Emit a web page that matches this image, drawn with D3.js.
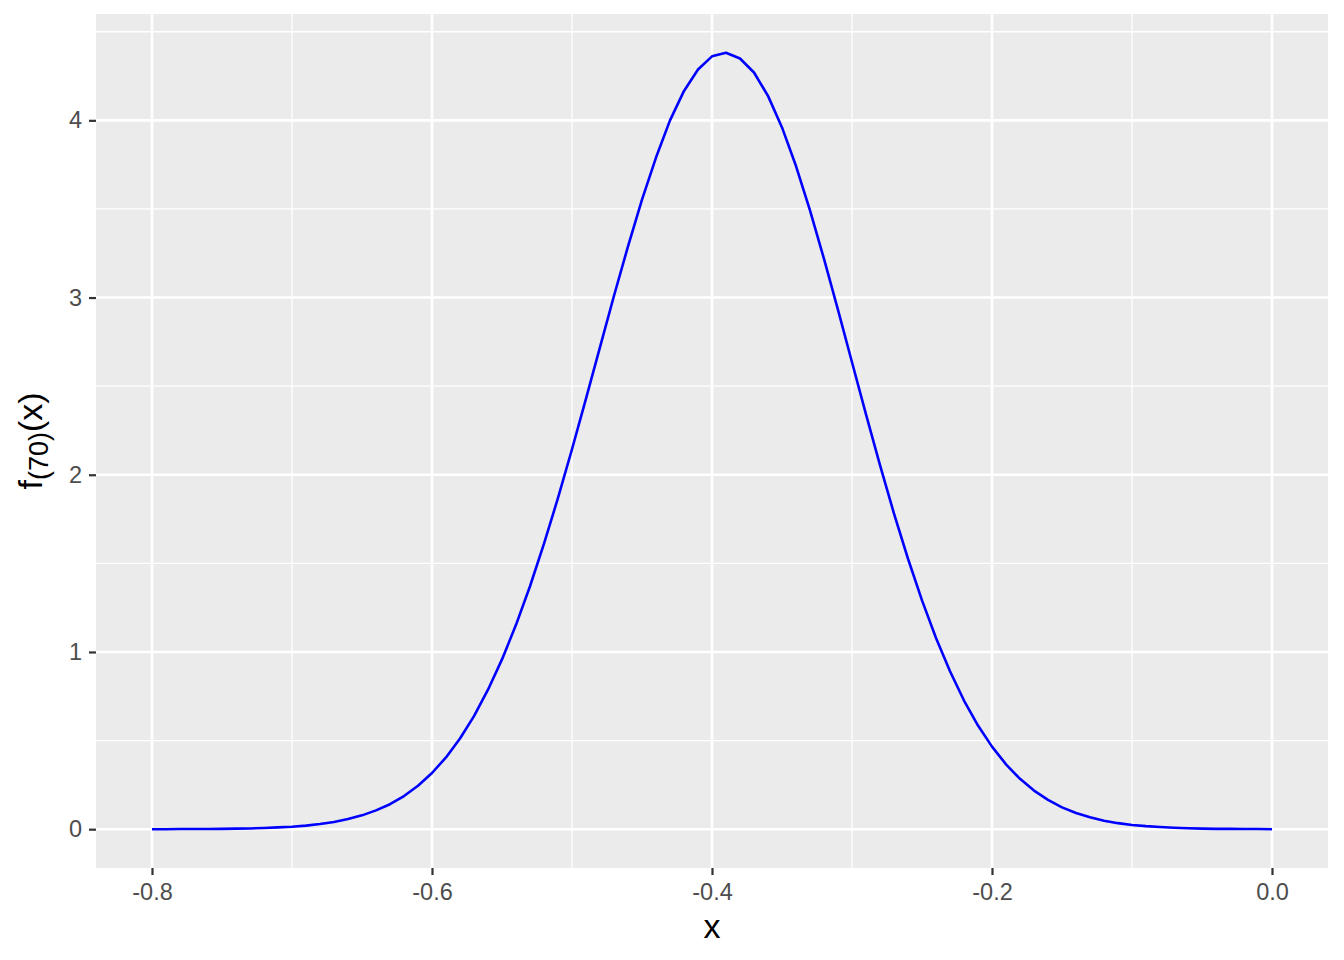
<!DOCTYPE html>
<html>
  <head>
    <meta charset="utf-8">
    <title></title>
  </head>
  <style>
    body {
      margin: 0;
      padding: 0;
      background-color: #fff;
      font-family: "Liberation Sans", Arial, Helvetica, sans-serif;
    }
    .axis path {
      display: none;
    }
    .axis .tick line {
      stroke: #333;
      stroke-width: 2.2;
    }
    .axis .tick text {
      fill: #4d4d4d;
      font-size: 23.5px;
      font-family: "Liberation Sans", Arial, Helvetica, sans-serif;
    }
    .grid-major line {
      stroke: #fff;
      stroke-width: 2.6;
    }
    .grid-minor line {
      stroke: #fff;
      stroke-width: 1.3;
    }
  </style>
  <script src="https://d3js.org/d3.v7.min.js"></script>
  <body>
    <script>
    // values, one point every 0.01
    var xs = [-0.80, -0.79, -0.78, -0.77, -0.76, -0.75, -0.74, -0.73, -0.72, -0.71,
              -0.70, -0.69, -0.68, -0.67, -0.66, -0.65, -0.64, -0.63, -0.62, -0.61,
              -0.60, -0.59, -0.58, -0.57, -0.56, -0.55, -0.54, -0.53, -0.52, -0.51,
              -0.50, -0.49, -0.48, -0.47, -0.46, -0.45, -0.44, -0.43, -0.42, -0.41,
              -0.40, -0.39, -0.38, -0.37, -0.36, -0.35, -0.34, -0.33, -0.32, -0.31,
              -0.30, -0.29, -0.28, -0.27, -0.26, -0.25, -0.24, -0.23, -0.22, -0.21,
              -0.20, -0.19, -0.18, -0.17, -0.16, -0.15, -0.14, -0.13, -0.12, -0.11,
              -0.10, -0.09, -0.08, -0.07, -0.06, -0.05, -0.04, -0.03, -0.02, -0.01,
               0.00]

    var density = [0.000, 0.000, 0.001, 0.001, 0.001, 0.002, 0.003, 0.004, 0.007, 0.010,
                   0.014, 0.020, 0.029, 0.041, 0.057, 0.078, 0.106, 0.141, 0.187, 0.245,
                   0.317, 0.405, 0.512, 0.638, 0.787, 0.958, 1.153, 1.371, 1.611, 1.869,
                   2.144, 2.430, 2.720, 3.010, 3.289, 3.553, 3.790, 4.000, 4.166, 4.287,
                   4.361, 4.381, 4.349, 4.270, 4.138, 3.960, 3.742, 3.492, 3.218, 2.930,
                   2.635, 2.341, 2.054, 1.781, 1.526, 1.291, 1.079, 0.891, 0.726, 0.585,
                   0.466, 0.366, 0.284, 0.218, 0.165, 0.123, 0.091, 0.067, 0.048, 0.034,
                   0.024, 0.017, 0.012, 0.008, 0.005, 0.003, 0.002, 0.002, 0.001, 0.001,
                   0.000]

    var xTicks = [-0.8, -0.6, -0.4, -0.2, 0.0]
    var xTickLabels = ["-0.8", "-0.6", "-0.4", "-0.2", "0.0"]
    var xMinor = [-0.7, -0.5, -0.3, -0.1]
    var yTicks = [0, 1, 2, 3, 4]
    var yTickLabels = ["0", "1", "2", "3", "4"]
    var yMinor = [0.5, 1.5, 2.5, 3.5, 4.5]

    var data = xs.map(function(x, i){ return [x, density[i]] })

    var totalW = 1344, totalH = 960
    var margin = { left: 96, top: 14, right: 16, bottom: 92 }
    var width  = totalW - margin.left - margin.right
    var height = totalH - margin.top - margin.bottom

    var svg = d3.select("body")
                .append("svg")
                .attr("width", totalW)
                .attr("height", totalH)

    var g = svg.append("g")
               .attr("transform", "translate(" + margin.left + "," + margin.top + ")")

    // ggplot style 5% expansion
    var xExt = d3.extent(xs)
    var yExt = d3.extent(density)
    var xPad = (xExt[1] - xExt[0]) * 0.05
    var yPad = (yExt[1] - yExt[0]) * 0.05

    var xScale = d3.scaleLinear()
                   .domain([xExt[0] - xPad, xExt[1] + xPad])
                   .range([0, width])

    var yScale = d3.scaleLinear()
                   .domain([yExt[0] - yPad, yExt[1] + yPad])
                   .range([height, 0])

    // panel
    g.append("rect")
     .attr("width", width)
     .attr("height", height)
     .attr("fill", "#ebebeb")

    // minor grid
    var minor = g.append("g").attr("class", "grid-minor")
    minor.selectAll("line.v")
         .data(xMinor)
         .enter()
         .append("line")
         .attr("class", "v")
         .attr("x1", function(d){ return xScale(d) })
         .attr("x2", function(d){ return xScale(d) })
         .attr("y1", 0)
         .attr("y2", height)
    minor.selectAll("line.h")
         .data(yMinor)
         .enter()
         .append("line")
         .attr("class", "h")
         .attr("x1", 0)
         .attr("x2", width)
         .attr("y1", function(d){ return yScale(d) })
         .attr("y2", function(d){ return yScale(d) })

    // major grid
    var major = g.append("g").attr("class", "grid-major")
    major.selectAll("line.v")
         .data(xTicks)
         .enter()
         .append("line")
         .attr("class", "v")
         .attr("x1", function(d){ return xScale(d) })
         .attr("x2", function(d){ return xScale(d) })
         .attr("y1", 0)
         .attr("y2", height)
    major.selectAll("line.h")
         .data(yTicks)
         .enter()
         .append("line")
         .attr("class", "h")
         .attr("x1", 0)
         .attr("x2", width)
         .attr("y1", function(d){ return yScale(d) })
         .attr("y2", function(d){ return yScale(d) })

    // the curve
    var linePath = d3.line()
                     .x(function(d){ return xScale(d[0]) })
                     .y(function(d){ return yScale(d[1]) })

    g.append("path")
     .attr("d", linePath(data))
     .attr("fill", "none")
     .attr("stroke", "#0000ff")
     .attr("stroke-width", 2.6)
     .attr("stroke-linejoin", "round")

    // axes
    var xAxis = d3.axisBottom(xScale)
                  .tickValues(xTicks)
                  .tickSize(7)
                  .tickPadding(8)
                  .tickFormat(function(d, i){ return xTickLabels[i] })

    g.append("g")
     .attr("class", "axis")
     .attr("transform", "translate(0," + height + ")")
     .call(xAxis)

    var yAxis = d3.axisLeft(yScale)
                  .tickValues(yTicks)
                  .tickSize(7)
                  .tickPadding(7)
                  .tickFormat(function(d, i){ return yTickLabels[i] })

    g.append("g")
     .attr("class", "axis")
     .call(yAxis)

    // axis titles
    svg.append("text")
       .text("x")
       .attr("x", margin.left + width / 2)
       .attr("y", 938)
       .attr("text-anchor", "middle")
       .attr("font-size", "34px")
       .attr("fill", "#000")

    var yTitle = svg.append("text")
                    .attr("transform", "translate(42," + (margin.top + height / 2) + ") rotate(-90)")
                    .attr("text-anchor", "middle")
                    .attr("font-size", "34px")
                    .attr("fill", "#000")
    yTitle.append("tspan").text("f")
    yTitle.append("tspan").text("(70)")
          .attr("font-size", "27px")
          .attr("dy", 6)
    yTitle.append("tspan").text("(x)")
          .attr("dy", -6)
    </script>
  </body>
</html>
